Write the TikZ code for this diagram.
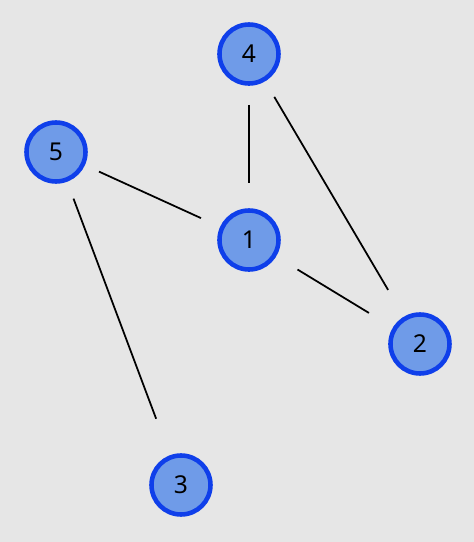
\documentclass[tikz,border=0pt]{standalone}
\usepackage{fontspec}
\setsansfont{Noto Sans}
\usepackage{tikz}
\usetikzlibrary{arrows.meta, positioning}

\definecolor{bgcol}{HTML}{E6E6E6}
\definecolor{vfill}{HTML}{6F9BE8}
\definecolor{vline}{HTML}{0F3FEA}

\begin{document}
\begin{tikzpicture}[
		vertex/.style={
			circle,
			draw=vline,
			fill=vfill,
			line width=2.6pt,
			minimum size=1.18cm,
			inner sep=0pt,
			font=\sffamily\fontsize{14}{16}\selectfont
		},
		link/.style={draw=black, line width=1pt}
		]
		
		\fill[bgcol] (0,0) rectangle (9.48,10.84);
		\useasboundingbox (0,0) rectangle (9.48,10.84);
		
		\node[vertex] (n4) at (4.98,9.76) {4};
		\node[vertex] (n5) at (1.12,7.80) {5};
		\node[vertex] (n1) at (4.98,6.04) {1};
		\node[vertex] (n2) at (8.40,3.96) {2};
		\node[vertex] (n3) at (3.62,1.14) {3};
		
		\draw[link, shorten <=0.38cm, shorten >=0.5cm] (n4) -- (n1);
		\draw[link, shorten <=0.36cm, shorten >=0.62cm] (n4) -- (n2);
		\draw[link, shorten <=0.31cm, shorten >=0.42cm] (n5) -- (n1);
		\draw[link, shorten <=0.5cm, shorten >=0.56cm] (n1) -- (n2);
		\draw[link, shorten <=0.36cm, shorten >=0.78cm] (n5) -- (n3);
		
	\end{tikzpicture}
\end{document}
